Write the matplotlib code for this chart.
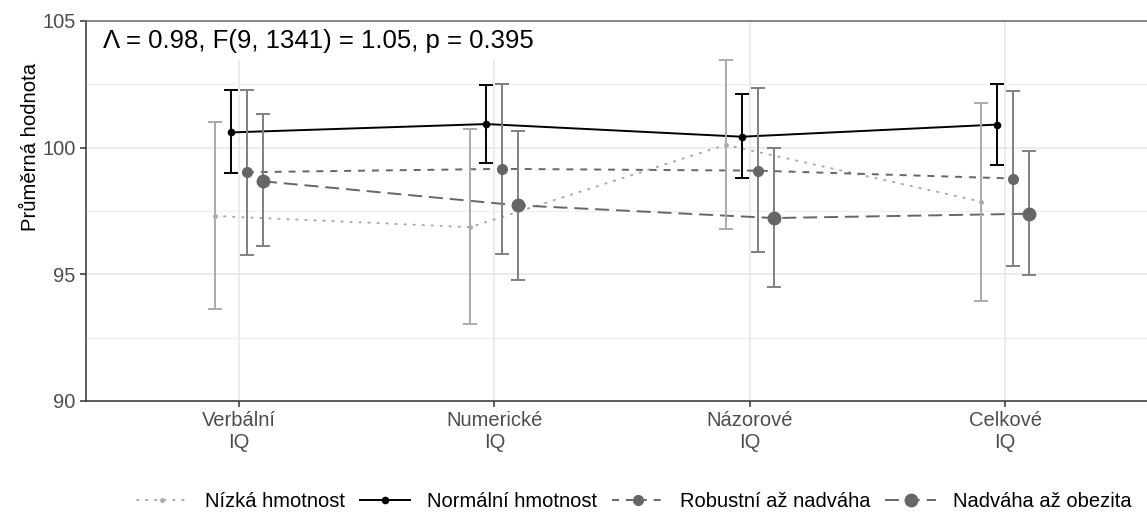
import numpy as np
import matplotlib
matplotlib.use('Agg')
import matplotlib.pyplot as plt
from matplotlib.lines import Line2D

plt.rcParams['font.family'] = ['Liberation Sans', 'DejaVu Sans']
plt.rcParams['lines.scale_dashes'] = False

categories = ['Verbální\nIQ', 'Numerické\nIQ', 'Názorové\nIQ', 'Celkové\nIQ']
groups = ['Nízká hmotnost', 'Normální hmotnost', 'Robustní až nadváha', 'Nadváha až obezita']

# means and CI bounds per group (Verbální, Numerické, Názorové, Celkové)
nizka_mean = [97.30, 96.86, 100.11, 97.87]
nizka_lo = [93.61, 93.02, 96.77, 93.96]
nizka_hi = [101.00, 100.72, 103.46, 101.78]

normalni_mean = [100.60, 100.93, 100.43, 100.91]
normalni_lo = [98.99, 99.38, 98.79, 99.30]
normalni_hi = [102.27, 102.49, 102.10, 102.51]

robustni_mean = [99.03, 99.16, 99.09, 98.78]
robustni_lo = [95.78, 95.81, 95.87, 95.33]
robustni_hi = [102.27, 102.53, 102.35, 102.24]

nadvaha_mean = [98.67, 97.72, 97.22, 97.39]
nadvaha_lo = [96.10, 94.79, 94.49, 94.96]
nadvaha_hi = [101.34, 100.66, 99.99, 99.87]

means = [nizka_mean, normalni_mean, robustni_mean, nadvaha_mean]
los = [nizka_lo, normalni_lo, robustni_lo, nadvaha_lo]
his = [nizka_hi, normalni_hi, robustni_hi, nadvaha_hi]

line_cols = ['#aaaaaa', '#000000', '#666666', '#666666']
err_cols = ['#aaaaaa', '#000000', '#808080', '#808080']
dashes = [(1, 5.5), None, (5, 5), (10, 5)]
msizes = [3.5, 5.5, 8, 10]
offsets = [-0.094, -0.031, 0.031, 0.094]

fig = plt.figure(figsize=(11.47, 5.2), dpi=100)
ax = fig.add_axes([0.075, 0.229, 0.925, 0.7307])

x = np.arange(1, 5)
handles = []
for i in range(4):
    xs = x + offsets[i]
    m = np.array(means[i])
    lo = m - np.array(los[i])
    hi = np.array(his[i]) - m
    ln, = ax.plot(xs, m, color=line_cols[i], lw=1.4, zorder=3,
                  dash_capstyle='round' if i == 0 else 'butt')
    if dashes[i] is not None:
        ln.set_dashes(dashes[i])
    ax.errorbar(xs, m, yerr=[lo, hi], fmt='none', ecolor=err_cols[i],
                elinewidth=1.4, capsize=4.7, capthick=1.4, zorder=4)
    ax.plot(xs, m, 'o', color=line_cols[i], ms=msizes[i], mec='none', zorder=5)
    h = Line2D([0], [0], color=line_cols[i], lw=1.4, marker='o', ms=msizes[i],
               mec='none', dash_capstyle='round' if i == 0 else 'butt')
    if dashes[i] is not None:
        h.set_dashes(dashes[i])
    handles.append(h)

ax.set_xlim(0.4007, 4.556)
ax.set_ylim(90, 105)
ax.set_xticks(x)
ax.set_xticklabels(categories)
ax.set_yticks([90, 95, 100, 105])
ax.set_yticks([92.5, 97.5, 102.5], minor=True)
ax.tick_params(axis='y', which='minor', length=0)
ax.tick_params(axis='both', which='major', labelsize=14.5, labelcolor='#4d4d4d',
               color='#333333', length=4, width=1.1)
ax.grid(True, which='major', color='#e6e6e6', lw=1.1, zorder=0)
ax.grid(True, which='minor', axis='y', color='#eeeeee', lw=0.8, zorder=0)
ax.set_axisbelow(True)
for s in ['left', 'bottom', 'top']:
    ax.spines[s].set_color('#333333')
    ax.spines[s].set_linewidth(1.1)
ax.spines['top'].set_color('#666666')
ax.spines['right'].set_visible(False)

ax.set_ylabel('Průměrná hodnota', fontsize=14.6)
ax.yaxis.set_label_coords(-0.043, 0.668)
ax.text(0.016, 0.928, 'Λ = 0.98, F(9, 1341) = 1.05, p = 0.395', transform=ax.transAxes,
        fontsize=18.5, va='baseline', ha='left', zorder=2.4,
        bbox=dict(facecolor='white', edgecolor='none', pad=5))

fig.legend(handles, groups, loc='center', bbox_to_anchor=(0.553, 0.035), ncol=4,
           frameon=False, fontsize=14.5, handlelength=2.5, columnspacing=0.75,
           handletextpad=0.85)

fig.savefig('out.png', dpi=100)
